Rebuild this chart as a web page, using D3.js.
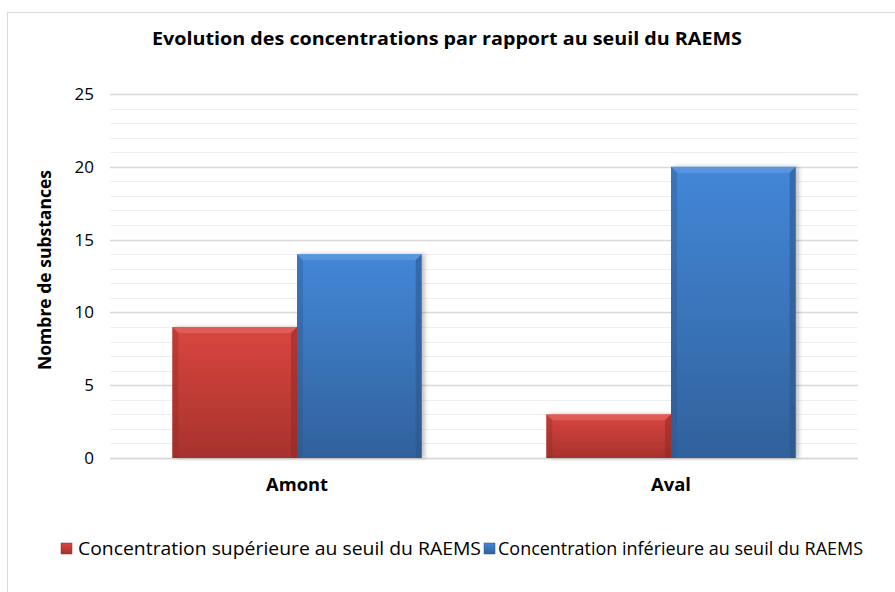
<!DOCTYPE html>
<html>
<head>
<meta charset="utf-8">
<script src="https://cdn.jsdelivr.net/npm/d3@7"></script>
<style>
  body { margin: 0; background: #fff; }
  text { font-family: "Open Sans", "Liberation Sans", sans-serif; fill: #000; }
</style>
</head>
<body>
<div id="chart"></div>
<script>
// Data
const categories = ["Amont", "Aval"];
const seriesNames = ["Concentration supérieure au seuil du RAEMS", "Concentration inférieure au seuil du RAEMS"];
const superieure = [9, 3];
const inferieure = [14, 20];
const yTicks = [0, 5, 10, 15, 20, 25];

const width = 895, height = 592;
const margin = { left: 110, right: 858, top: 94, bottom: 458 };

const svg = d3.select("#chart").append("svg")
    .attr("width", width)
    .attr("height", height);

// frame
svg.append("rect")
    .attr("x", 7.5).attr("y", 12.5)
    .attr("width", 900).attr("height", 600)
    .attr("fill", "#fff").attr("stroke", "#d9d9d9");

const colors = [
    { top: "#d9463f", bottom: "#a7322d", edge: "#8f2a26", light: "#e8706a" },
    { top: "#4387d8", bottom: "#31619c", edge: "#2b5488", light: "#6aa2e4" }
];

const defs = svg.append("defs");
colors.forEach((c, i) => {
    const g = defs.append("linearGradient").attr("id", "grad" + i)
        .attr("x1", 0).attr("y1", 0).attr("x2", 0).attr("y2", 1);
    g.append("stop").attr("offset", "0%").attr("stop-color", c.top);
    g.append("stop").attr("offset", "100%").attr("stop-color", c.bottom);
});
const sh = defs.append("filter").attr("id", "shadow")
    .attr("x", "-10%").attr("y", "-10%").attr("width", "130%").attr("height", "120%");
sh.append("feDropShadow").attr("dx", 3).attr("dy", 0).attr("stdDeviation", 2)
    .attr("flood-color", "#000").attr("flood-opacity", 0.25);

const y = d3.scaleLinear().domain([0, 25]).range([margin.bottom, margin.top]);
const x0 = d3.scaleBand().domain(categories).range([margin.left, margin.right]).paddingInner(0).paddingOuter(0);
const x1 = d3.scaleBand().domain([0, 1]).range([x0.bandwidth() / 6, x0.bandwidth() * 5 / 6]);

// minor gridlines
svg.append("g").selectAll("line")
    .data(d3.range(1, 26).filter(v => v % 5 !== 0))
    .join("line")
    .attr("x1", margin.left).attr("x2", margin.right)
    .attr("y1", d => Math.round(y(d)) + 0.5).attr("y2", d => Math.round(y(d)) + 0.5)
    .attr("stroke", "#efefef").attr("stroke-width", 1);

// major gridlines
svg.append("g").selectAll("line")
    .data(yTicks)
    .join("line")
    .attr("x1", margin.left).attr("x2", margin.right)
    .attr("y1", d => Math.round(y(d)) + 0.5).attr("y2", d => Math.round(y(d)) + 0.5)
    .attr("stroke", "#d9d9d9").attr("stroke-width", d => d === 0 ? 2 : 1.3);

// y tick labels
svg.append("g").selectAll("text")
    .data(yTicks)
    .join("text")
    .attr("x", 94).attr("y", d => y(d))
    .attr("dy", "0.35em")
    .attr("text-anchor", "end")
    .attr("font-size", 17)
    .text(d => d);

// bars
const series = [superieure, inferieure];
const groups = svg.append("g").selectAll("g")
    .data(categories)
    .join("g")
    .attr("transform", d => `translate(${x0(d)},0)`);

groups.each(function (cat, ci) {
    const g = d3.select(this);
    series.forEach((vals, si) => {
        const bx = x1(si), bw = x1.bandwidth();
        const by = y(vals[ci]), bh = y(0) - y(vals[ci]);
        const c = colors[si];
        const bar = g.append("g").attr("filter", "url(#shadow)");
        bar.append("rect")
            .attr("x", bx).attr("y", by).attr("width", bw).attr("height", bh)
            .attr("fill", "url(#grad" + si + ")");
        // bevel: light top, dark sides
        const b = 6;
        bar.append("path")
            .attr("d", `M${bx},${by}L${bx + bw},${by}L${bx + bw - b},${by + b}L${bx + b},${by + b}Z`)
            .attr("fill", c.light).attr("opacity", 0.55);
        bar.append("path")
            .attr("d", `M${bx},${by}L${bx + b},${by + b}L${bx + b},${by + bh}L${bx},${by + bh}Z`)
            .attr("fill", c.edge).attr("opacity", 0.35);
        bar.append("path")
            .attr("d", `M${bx + bw},${by}L${bx + bw - b},${by + b}L${bx + bw - b},${by + bh}L${bx + bw},${by + bh}Z`)
            .attr("fill", c.edge).attr("opacity", 0.55);
    });
});

// category labels
svg.append("g").selectAll("text")
    .data(categories)
    .join("text")
    .attr("x", d => x0(d) + x0.bandwidth() / 2)
    .attr("y", 485)
    .attr("dy", "0.35em")
    .attr("text-anchor", "middle")
    .attr("font-size", 17)
    .attr("font-weight", "bold")
    .attr("textLength", d => d === "Amont" ? 62 : 40)
    .attr("lengthAdjust", "spacingAndGlyphs")
    .text(d => d);

// title
svg.append("text")
    .attr("x", 447).attr("y", 45)
    .attr("text-anchor", "middle")
    .attr("font-size", 18)
    .attr("font-weight", "bold")
    .attr("textLength", 590).attr("lengthAdjust", "spacingAndGlyphs")
    .text("Evolution des concentrations par rapport au seuil du RAEMS");

// y axis title
svg.append("text")
    .attr("transform", "translate(45,270) rotate(-90)")
    .attr("text-anchor", "middle")
    .attr("dy", "0.35em")
    .attr("font-size", 17)
    .attr("font-weight", "bold")
    .attr("textLength", 200).attr("lengthAdjust", "spacingAndGlyphs")
    .text("Nombre de substances");

// legend
const legendItems = [
    { name: seriesNames[0], sx: 61, tx: 78, tw: 403 },
    { name: seriesNames[1], sx: 484, tx: 498, tw: 365 }
];
legendItems.forEach((d, i) => {
    svg.append("rect")
        .attr("x", d.sx).attr("y", 543).attr("width", 11).attr("height", 11)
        .attr("fill", "url(#grad" + i + ")")
        .attr("stroke", colors[i].edge).attr("stroke-width", 0.5);
    svg.append("text")
        .attr("x", d.tx).attr("y", 549)
        .attr("dy", "0.35em")
        .attr("font-size", 18)
        .attr("textLength", d.tw).attr("lengthAdjust", "spacingAndGlyphs")
        .text(d.name);
});
</script>
</body>
</html>
